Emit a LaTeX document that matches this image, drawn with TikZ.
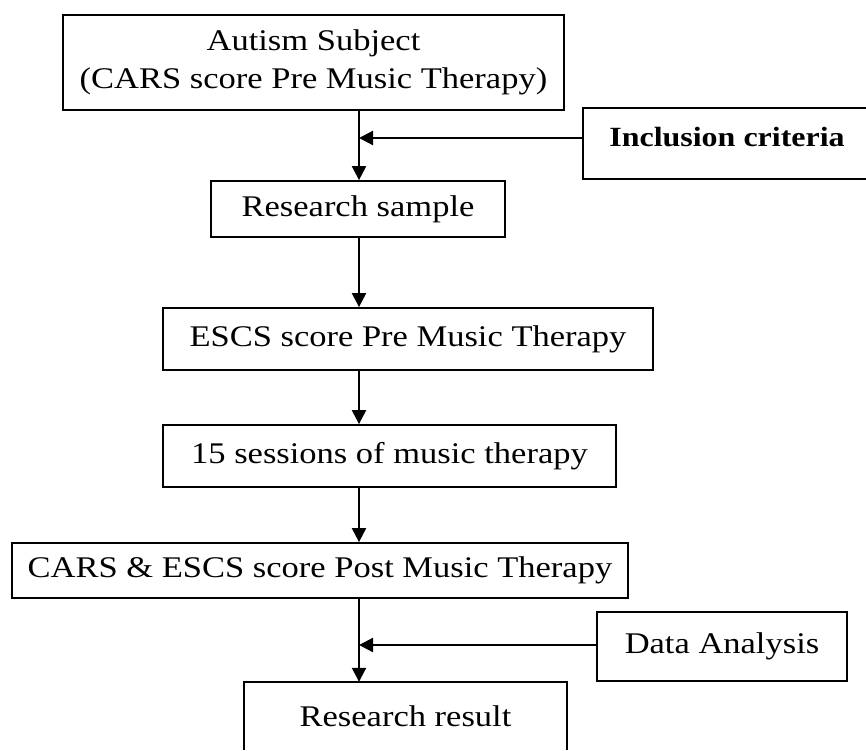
\documentclass[tikz,border=0pt]{standalone}
\usepackage{fontspec}
\setmainfont{Liberation Serif}[FakeStretch=1.15]
\usetikzlibrary{arrows.meta}
\begin{document}
\begin{tikzpicture}[x=1pt,y=-1pt,
  box/.style={draw, line width=1.8pt, rectangle, inner sep=0pt, align=center,
    font=\fontsize{30}{38}\selectfont},
  openbox/.style={draw=none, rectangle, inner sep=0pt, align=center,
    font=\fontsize{30}{38}\selectfont},
  side/.style={line width=1.8pt},
  conn/.style={line width=2.2pt, -{Triangle[length=14pt,width=14pt]}},
  ]
\fill[white] (0,0) rectangle (866,750);
\useasboundingbox (0,0) rectangle (866,750);
\coordinate (spine) at (359,0);

\node[box, minimum width=501pt, minimum height=95pt] (aut) at (313.5,62.5)
  {Autism Subject\\(CARS score Pre Music Therapy)};
\node[openbox, minimum width=283pt, minimum height=71pt] (inc) at (724.5,143.5) {};
\draw[side] (inc.south east) -- (inc.south west) -- (inc.north west) -- (inc.north east);
\node[font=\fontsize{27.8}{32}\selectfont\bfseries, inner sep=0pt] (inct)
  at ([xshift=2.5pt,yshift=6.5pt]inc.center) {Inclusion criteria};
\node[box, minimum width=294pt, minimum height=56pt] (rs) at (358,209) {Research sample};
\node[box, minimum width=490pt, minimum height=62pt] (escs) at (408,339) {ESCS score Pre Music Therapy};
\node[box, minimum width=453pt, minimum height=62pt] (ses) at (389.5,456) {15 sessions of music therapy};
\node[box, minimum width=616pt, minimum height=55pt] (cars) at (320,570.5) {CARS \& ESCS score Post Music Therapy};
\node[box, minimum width=250pt, minimum height=69pt] (da) at (722,646.5) {Data Analysis};
\node[openbox, minimum width=323pt, minimum height=68pt] (rr) at (405.5,716) {Research result};
\draw[side] (rr.south west) -- (rr.north west) -- (rr.north east) -- (rr.south east);

\draw[conn] (aut.south -| spine) -- (rs.north -| spine);
\draw[conn] ([yshift=5.5pt]inc.west) -- ([yshift=5.5pt]inc.west -| spine);
\draw[conn] (rs.south -| spine) -- (escs.north -| spine);
\draw[conn] (escs.south -| spine) -- (ses.north -| spine);
\draw[conn] (ses.south -| spine) -- (cars.north -| spine);
\draw[conn] (cars.south -| spine) -- (rr.north -| spine);
\draw[conn] ([yshift=1.5pt]da.west) -- ([yshift=1.5pt]da.west -| spine);
\end{tikzpicture}
\end{document}
